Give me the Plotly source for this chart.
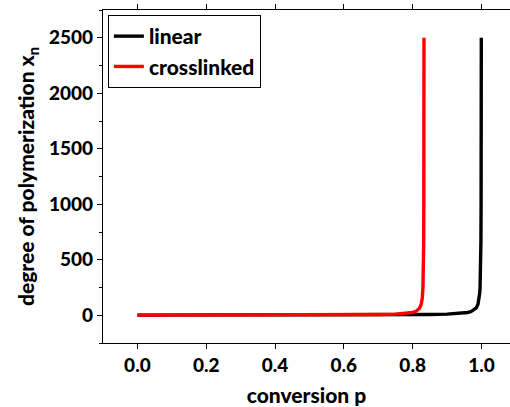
import plotly.graph_objects as go

# conversion p and degree of polymerization x_n
p_linear = [0, 0.1, 0.2, 0.3, 0.4, 0.5, 0.6, 0.7, 0.8, 0.85, 0.9, 0.92, 0.94, 0.95,
            0.96, 0.97, 0.98, 0.985, 0.99, 0.993, 0.995, 0.996, 0.997, 0.998,
            0.9985, 0.999, 0.9993, 0.9995, 0.9996]
x_linear = [1, 1.11, 1.25, 1.43, 1.67, 2, 2.5, 3.33, 5, 6.67, 10, 12.5, 16.7, 20,
            25, 33.3, 50, 66.7, 100, 143, 200, 250, 333, 500,
            667, 1000, 1429, 2000, 2500]

p_cross = [0, 0.1, 0.2, 0.3, 0.4, 0.5, 0.6, 0.65, 0.7, 0.75, 0.78, 0.8, 0.81,
           0.82, 0.825, 0.828, 0.83, 0.831, 0.832, 0.8325, 0.8328, 0.833]
x_cross = [1, 1.136, 1.316, 1.5625, 1.923, 2.5, 3.57, 4.55, 6.25, 10, 15.6, 25, 35.7,
           62.5, 100, 156, 250, 357, 625, 1000, 1563, 2500]

series_names = ["linear", "crosslinked"]
series_colors = ["black", "#ff0000"]

FONT = "Lato, 'Open Sans', sans-serif"

fig = go.Figure()
fig.add_trace(go.Scatter(x=p_linear, y=x_linear, mode="lines", name=series_names[0],
                         line=dict(color=series_colors[0], width=3.4)))
fig.add_trace(go.Scatter(x=p_cross, y=x_cross, mode="lines", name=series_names[1],
                         line=dict(color=series_colors[1], width=3.4)))

fig.update_layout(
    width=510, height=407,
    margin=dict(l=103, r=0, t=10, b=62),
    paper_bgcolor="white", plot_bgcolor="white",
    font=dict(family=FONT, color="black", size=19, weight=900),
    showlegend=True,
    legend=dict(x=0.012, y=0.985, xanchor="left", yanchor="top",
                bordercolor="black", borderwidth=1, bgcolor="white",
                font=dict(family=FONT, size=21, weight=900),
                tracegroupgap=0, itemwidth=30),
)
fig.update_xaxes(
    range=[-0.1, 1.083], dtick=0.2, tick0=0, tickformat=".1f",
    showgrid=False, zeroline=False,
    showline=True, linecolor="black", linewidth=1.3, mirror="ticks",
    ticks="outside", ticklen=5, tickwidth=1.2, tickcolor="black",
    tickfont=dict(family=FONT, size=19, weight=900),
    title=dict(text="conversion p", font=dict(family=FONT, size=21, weight=900), standoff=16),
)
fig.update_yaxes(
    range=[-250, 2750], dtick=500, tick0=0,
    showgrid=False, zeroline=False,
    showline=True, linecolor="black", linewidth=1.3,
    ticks="outside", ticklen=5, tickwidth=1.2, tickcolor="black",
    minor=dict(dtick=250, tick0=0, ticks="outside", ticklen=3, tickcolor="black", tickwidth=1.2),
    tickfont=dict(family=FONT, size=19, weight=900),
    title=dict(text="degree of polymerization x<sub>n</sub>",
               font=dict(family=FONT, size=21, weight=900), standoff=8),
)

fig.write_html("out.html")
